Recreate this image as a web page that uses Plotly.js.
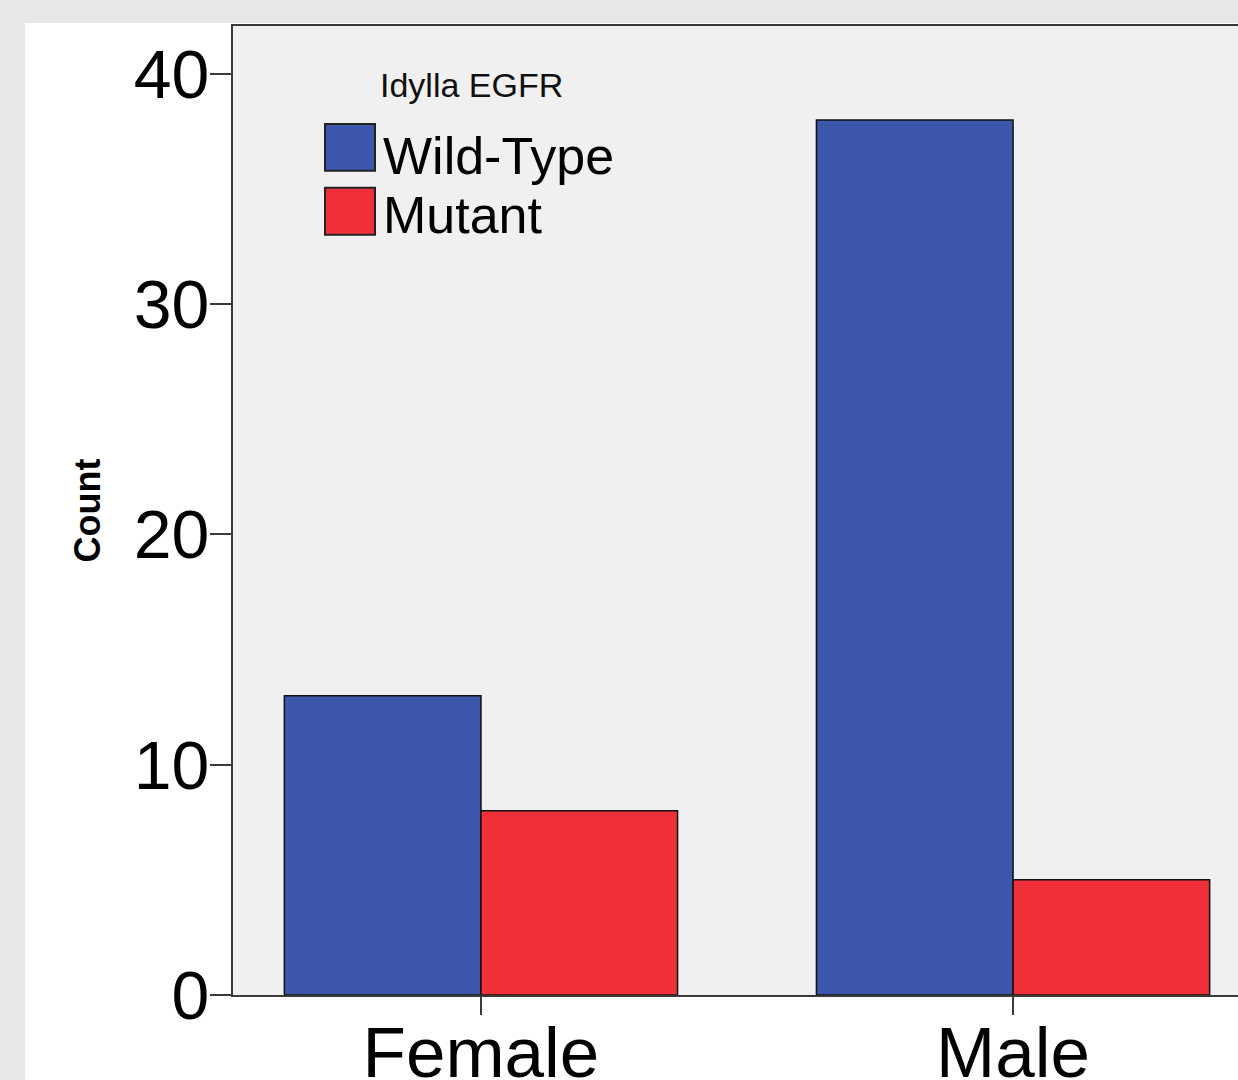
<!DOCTYPE html>
<html>
<head>
<meta charset="utf-8">
<script src="https://cdn.plot.ly/plotly-3.0.1.min.js"></script>
<style>
  html, body { margin: 0; padding: 0; width: 1238px; height: 1080px; overflow: hidden; background: #e8e8e8; }
  #chart { position: absolute; left: 25px; top: 23px; }
</style>
</head>
<body>
<div id="chart"></div>
<script>
const categories = ["Female", "Male"];
const wildType = [13, 38];
const mutant = [8, 5];
const seriesNames = ["Wild-Type", "Mutant"];
const legendTitle = "Idylla EGFR";
const yTicks = [0, 10, 20, 30, 40];

const blue = "#3d58aa";
const red = "#f03038";
const font = "Liberation Sans, Arial, sans-serif";

const traces = [
  { type: "bar", name: seriesNames[0], x: categories, y: wildType,
    marker: { color: blue, line: { color: "#111", width: 1.5 } }, showlegend: false },
  { type: "bar", name: seriesNames[1], x: categories, y: mutant,
    marker: { color: red, line: { color: "#111", width: 1.5 } }, showlegend: false }
];

const layout = {
  width: 1250, height: 1057,
  margin: { l: 208, r: 14, t: 3, b: 85, pad: 0 },
  paper_bgcolor: "#ffffff",
  plot_bgcolor: "#f0f0f0",
  barmode: "group",
  bargap: 0.261,
  bargroupgap: 0,
  font: { family: font, color: "#000" },
  xaxis: {
    type: "category",
    range: [-0.466, 1.466],
    showline: true, mirror: true, linecolor: "#3a3a3a", linewidth: 2,
    ticks: "outside", ticklen: 18, tickwidth: 2, tickcolor: "#3a3a3a",
    ticklabelstandoff: -23,
    tickfont: { size: 71, family: font, color: "#000" },
    showgrid: false, zeroline: false, fixedrange: true
  },
  yaxis: {
    range: [0, 42.08],
    tickvals: yTicks,
    showline: true, mirror: true, linecolor: "#3a3a3a", linewidth: 2,
    ticks: "outside", ticklen: 21, tickwidth: 2, tickcolor: "#3a3a3a",
    ticklabelstandoff: -13,
    tickfont: { size: 68, family: font, color: "#000" },
    showgrid: false, zeroline: false, fixedrange: true,
    title: { text: "Count", standoff: 22, font: { size: 36, family: font, color: "#000", weight: "bold" } }
  },
  shapes: [
    { type: "rect", xref: "paper", yref: "paper",
      x0: (325 - 233) / 1028, x1: (375 - 233) / 1028,
      y0: (995 - 170) / 970, y1: (995 - 123) / 970,
      fillcolor: blue, line: { color: "#222", width: 2 } },
    { type: "rect", xref: "paper", yref: "paper",
      x0: (325 - 233) / 1028, x1: (375 - 233) / 1028,
      y0: (995 - 234) / 970, y1: (995 - 187) / 970,
      fillcolor: red, line: { color: "#222", width: 2 } }
  ],
  annotations: [
    { xref: "paper", yref: "paper", x: (471 - 233) / 1028, y: (995 - 84) / 970,
      text: legendTitle, showarrow: false, xanchor: "center", yanchor: "middle",
      font: { size: 34, family: font, color: "#111" } },
    { xref: "paper", yref: "paper", x: (381 - 233) / 1028, y: (995 - 155) / 970,
      text: seriesNames[0], showarrow: false, xanchor: "left", yanchor: "middle",
      font: { size: 52, family: font, color: "#000" } },
    { xref: "paper", yref: "paper", x: (381 - 233) / 1028, y: (995 - 214) / 970,
      text: seriesNames[1], showarrow: false, xanchor: "left", yanchor: "middle",
      font: { size: 52, family: font, color: "#000" } }
  ]
};

Plotly.newPlot("chart", traces, layout, { displayModeBar: false, staticPlot: true });
</script>
</body>
</html>
